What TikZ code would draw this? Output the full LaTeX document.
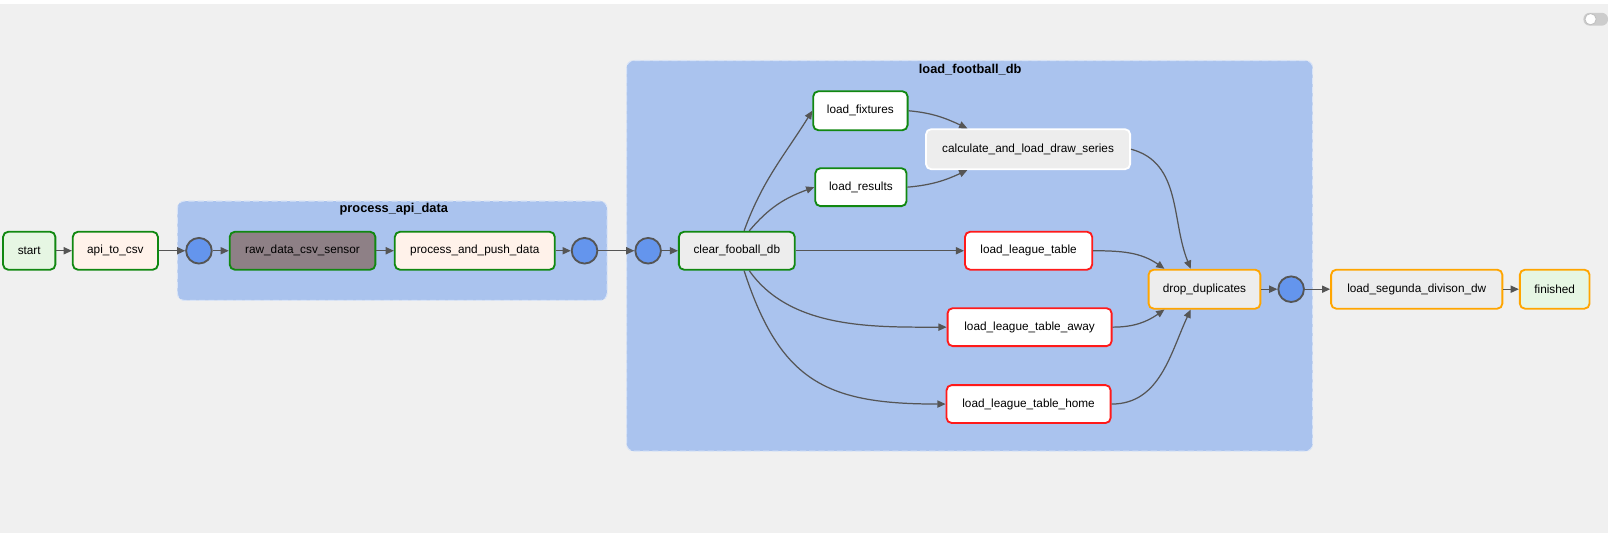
\documentclass[tikz,border=0pt]{standalone}
\usepackage{fontspec}
\setmainfont{Liberation Sans}
\usetikzlibrary{arrows.meta,positioning,calc}
\definecolor{bggray}{HTML}{F0F0F0}
\definecolor{grpblue}{HTML}{AAC3EE}
\definecolor{okgreen}{HTML}{118811}
\definecolor{failred}{HTML}{FF1A1A}
\definecolor{skiporange}{HTML}{FFA500}
\definecolor{edgegray}{HTML}{555555}
\definecolor{joinblue}{HTML}{6495ED}
\definecolor{peach}{HTML}{FFF2EA}
\definecolor{mint}{HTML}{E6F6E3}
\definecolor{sensorgray}{HTML}{8E8086}
\definecolor{pale}{HTML}{EDEDED}

\begin{document}
\begin{tikzpicture}[
    x=1pt, y=1pt,
    task/.style={draw, line width=1.8pt, rounded corners=5pt, minimum height=37pt, inner sep=0pt, font=\fontsize{11.5}{13}\selectfont},
    joint/.style={circle, draw=edgegray, line width=1.8pt, fill=joinblue, minimum size=25pt, inner sep=0pt},
    grp/.style={fill=grpblue, draw=white!55!grpblue, dashed, dash pattern=on 6pt off 3pt, line width=1pt, rounded corners=7pt},
    grptitle/.style={font=\bfseries\fontsize{12.5}{14}\selectfont},
    arr/.style={-{Triangle[length=8pt,width=7pt]}, draw=edgegray, line width=1.2pt}
]
\useasboundingbox (0,0) rectangle (1568,-520);
\fill[bggray] (0,0) rectangle (1568,-520);
\fill[white] (0,0) rectangle (1568,-4);
\fill[black!20, rounded corners=6pt] (1544,-12.5) rectangle (1568,-25);
\draw[fill=white, draw=black!25, line width=0.8pt] (1551,-18.7) circle (5.5pt);

\draw[grp] (173,-196) rectangle (592,-293);
\node[grptitle] (apigrp) at (384,-204) {process\_api\_data};
\draw[grp] (611,-59) rectangle (1280,-440);
\node[grptitle] (dbgrp) at (946,-68) {load\_football\_db};

\node[task, draw=okgreen, fill=mint, minimum width=51pt] (start) at (28.5,-244.5) {start};
\node[task, draw=okgreen, fill=peach, minimum width=83pt] (api) at (112.5,-244.5) {api\_to\_csv};
\node[joint] (j1) at (194,-244.5) {};
\node[task, draw=okgreen, fill=sensorgray, minimum width=142pt] (sensor) at (295,-244.5) {raw\_data\_csv\_sensor};
\node[task, draw=okgreen, fill=peach, minimum width=156pt] (push) at (463,-244.5) {process\_and\_push\_data};
\node[joint] (j2) at (570,-244.5) {};
\node[joint] (j3) at (632,-244.5) {};
\node[task, draw=okgreen, fill=pale, minimum width=113pt] (clear) at (718.5,-244.5) {clear\_fooball\_db};
\node[task, draw=okgreen, fill=white, minimum width=92pt, minimum height=38pt] (fixtures) at (839,-108) {load\_fixtures};
\node[task, draw=okgreen, fill=white, minimum width=89pt] (results) at (839.5,-182.5) {load\_results};
\node[task, draw=white, fill=pale, minimum width=199pt, minimum height=39pt] (draws) at (1002.5,-145.5) {calculate\_and\_load\_draw\_series};
\node[task, draw=failred, fill=white, minimum width=124pt] (table) at (1003,-244.5) {load\_league\_table};
\node[task, draw=failred, fill=white, minimum width=160pt] (away) at (1004,-319) {load\_league\_table\_away};
\node[task, draw=failred, fill=white, minimum width=160pt] (home) at (1003,-394) {load\_league\_table\_home};
\node[task, draw=skiporange, fill=pale, minimum width=109pt, minimum height=38pt] (dedup) at (1174.5,-282) {drop\_duplicates};
\node[joint] (j4) at (1259,-282) {};
\node[task, draw=skiporange, fill=pale, minimum width=167pt, minimum height=38pt] (dw) at (1381.5,-282) {load\_segunda\_divison\_dw};
\node[task, draw=skiporange, fill=mint, minimum width=68pt, minimum height=38pt] (finished) at (1516,-282) {finished};

\draw[arr] (start) -- (api);
\draw[arr] (api) -- (j1);
\draw[arr] (j1) -- (sensor);
\draw[arr] (sensor) -- (push);
\draw[arr] (push) -- (j2);
\draw[arr] (j2) -- (j3);
\draw[arr] (j3) -- (clear);
\draw[arr] (clear.70) to[out=70,in=238] (fixtures.west);
\draw[arr] (clear.58) to[out=50,in=200] (results.west);
\draw[arr] (clear) -- (table);
\draw[arr] (clear.-58) .. controls +(-55:70) and +(180:70) .. (away.west);
\draw[arr] (clear.-70) .. controls +(-72:115) and +(180:115) .. (home.west);
\draw[arr] (fixtures.east) to[out=-5,in=155] (draws.161);
\draw[arr] (results.east) to[out=5,in=205] (draws.199);
\draw[arr] (draws.east) to[out=-15,in=112] (dedup.124);
\draw[arr] (table.east) to[out=0,in=145] (dedup.153);
\draw[arr] (away.east) to[out=0,in=215] (dedup.207);
\draw[arr] (home.east) to[out=0,in=245] (dedup.236);
\draw[arr] (dedup) -- (j4);
\draw[arr] (j4) -- (dw);
\draw[arr] (dw) -- (finished);
\end{tikzpicture}
\end{document}
